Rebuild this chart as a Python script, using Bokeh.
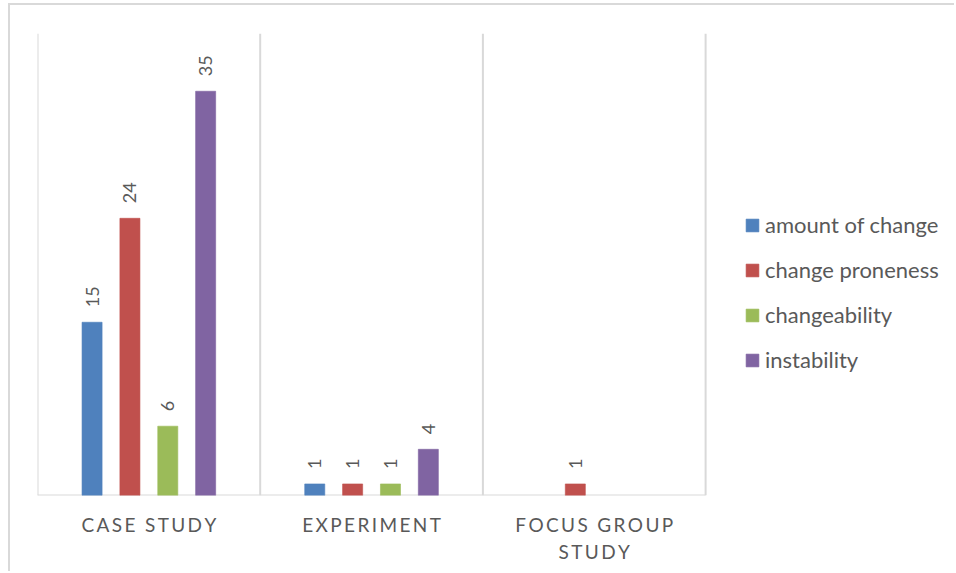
import math
from bokeh.plotting import figure
from bokeh.models import (ColumnDataSource, Range1d, FixedTicker, Legend, LegendItem)
from bokeh.core.properties import value
from bokeh.embed import file_html
from bokeh.resources import INLINE

# Study types (x categories) and counts per term
categories = ["CASE STUDY", "EXPERIMENT", "FOCUS GROUP\nSTUDY"]
series_names = ["amount of change", "change proneness", "changeability", "instability"]
amount_of_change = [15, 1, None]
change_proneness = [24, 1, 1]
changeability = [6, 1, None]
instability = [35, 4, None]

series_values = [amount_of_change, change_proneness, changeability, instability]
colors = ["#4F81BD", "#C0504D", "#9BBB59", "#8064A2"]
offsets = [-0.255, -0.085, 0.085, 0.255]
bar_width = 0.09

FONT = "Lato"
TEXT_COLOR = "#595959"
GRID_COLOR = "#D9D9D9"


def spaced(label):
    # widen tracking of the category labels
    return "\n".join("\u2009".join(list(line)) for line in label.split("\n"))


W, H = 946, 568
BORDER_L, BORDER_T = 27, 28
CAT_PX = 222.7                      # screen width of one category slot
frame_w = W - BORDER_L
n = len(categories)

p = figure(width=W, height=H, output_backend="svg", toolbar_location=None,
           x_range=Range1d(0, frame_w / CAT_PX), y_range=Range1d(0, 40),
           min_border_left=BORDER_L, min_border_top=BORDER_T,
           min_border_right=0, min_border_bottom=78)
p.styles = {"margin-left": "8px", "margin-top": "3px",
            "border-left": "2px solid #D9D9D9", "border-top": "2px solid #D9D9D9"}
p.outline_line_color = None
p.background_fill_color = "white"
p.border_fill_color = "white"

centers = [i + 0.5 for i in range(n)]

# category separators and baseline
p.segment(x0=list(range(n + 1)), y0=[0] * (n + 1), x1=list(range(n + 1)), y1=[40] * (n + 1),
          line_color=GRID_COLOR, line_width=2)
p.segment(x0=[0], y0=[0], x1=[n], y1=[0], line_color=GRID_COLOR, line_width=2)

items = []
for name, vals, col, off in zip(series_names, series_values, colors, offsets):
    xs = [c + off for c in centers]
    tops = [float("nan") if v is None else v for v in vals]
    src = ColumnDataSource(dict(x=xs, top=tops))
    r = p.vbar(x="x", top="top", width=bar_width, bottom=0, source=src,
               fill_color=col, line_color=col, line_alpha=0.6)
    items.append(LegendItem(label=name, renderers=[r]))

    lx = [x for x, v in zip(xs, vals) if v is not None]
    ly = [v for v in vals if v is not None]
    lsrc = ColumnDataSource(dict(x=lx, y=ly, t=[str(v) for v in ly]))
    p.text(x="x", y="y", text="t", source=lsrc, angle=math.pi / 2,
           text_align="left", text_baseline="middle", y_offset=-15,
           text_font=value(FONT), text_font_size="18px", text_color=TEXT_COLOR)

# x axis: labels at category centres
p.xaxis.ticker = FixedTicker(ticks=centers)
p.xaxis.major_label_overrides = {c: spaced(lab) for c, lab in zip(centers, categories)}
p.xaxis.major_label_text_font = FONT
p.xaxis.major_label_text_font_size = "19px"
p.xaxis.major_label_text_color = TEXT_COLOR
p.xaxis.major_label_standoff = 11
p.xaxis.major_tick_line_color = None
p.xaxis.minor_tick_line_color = None
p.xaxis.axis_line_color = None
p.xgrid.grid_line_color = None
p.yaxis.visible = False
p.ygrid.grid_line_color = None

legend = Legend(items=items, location=(707, 122), orientation="vertical",
                glyph_width=16, glyph_height=16, label_height=20,
                label_standoff=5, spacing=18, padding=0, margin=0,
                label_text_font=FONT, label_text_font_size="22px",
                label_text_color=TEXT_COLOR, border_line_color=None,
                background_fill_alpha=0)
p.add_layout(legend)

open("out.html", "w").write(file_html(p, INLINE))
